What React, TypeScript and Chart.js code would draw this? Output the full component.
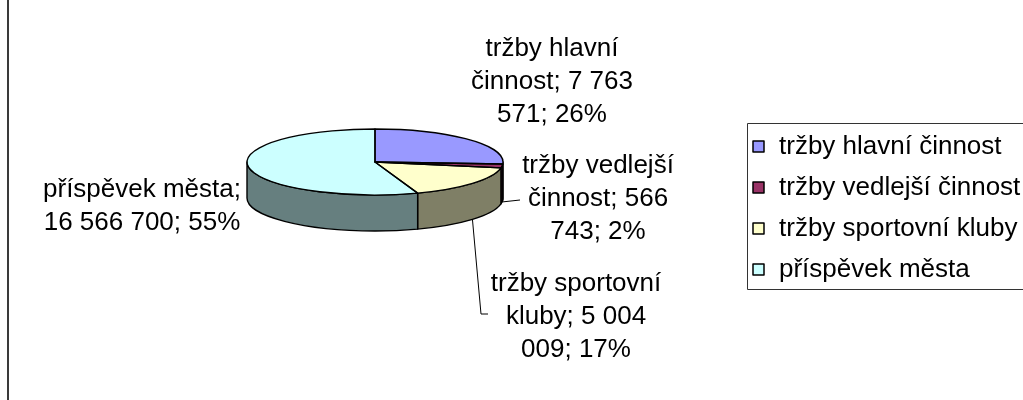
import React, { useEffect, useRef } from "react";
import { Chart, registerables } from "chart.js";

Chart.register(...registerables);

// ---- data ----
const categories = [
  "tržby hlavní činnost",
  "tržby vedlejší činnost",
  "tržby sportovní kluby",
  "příspěvek města",
];
const values = [7763571, 566743, 5004009, 16566700];
const topColors = ["#9999FF", "#993366", "#FFFFCC", "#CCFFFF"];
const sideColors = ["#4C4C7F", "#4C1933", "#7F7F66", "#667F7F"];

// ---- styling / layout (not data) ----
const FONT = '26px "Liberation Sans", Arial, sans-serif';
const TILT = 33 / 128;
const DEPTH = 36;
const LINE_H = 33;
// label block centre (middle of block), wrap width, leader end
const labelLayout = [
  { cx: 552, cy: 82, wrap: 185, leader: null as null | number[][] },
  { cx: 598, cy: 199, wrap: 185, leader: [[520, 200]] },
  { cx: 576, cy: 317, wrap: 185, leader: [[481, 314], [488, 314]] },
  { cx: 142, cy: 206, wrap: 215, leader: null },
];

function fmtNum(v: number): string {
  return String(v).replace(/\B(?=(\d{3})+(?!\d))/g, " ");
}

function wrapText(ctx: CanvasRenderingContext2D, text: string, maxW: number): string[] {
  const words = text.split(" ");
  const lines: string[] = [];
  let cur = "";
  for (const w of words) {
    const test = cur ? cur + " " + w : w;
    if (cur && ctx.measureText(test).width > maxW) {
      lines.push(cur);
      cur = w;
    } else cur = test;
  }
  if (cur) lines.push(cur);
  return lines;
}

const pie3d = {
  id: "pie3d",
  beforeDatasetsDraw(chart: any) {
    const ctx: CanvasRenderingContext2D = chart.ctx;
    const meta = chart.getDatasetMeta(0);
    if (!meta.data.length) return;
    meta.data.forEach((arc: any, i: number) => {
      const { x, y, startAngle, endAngle, outerRadius } = arc.getProps(
        ["x", "y", "startAngle", "endAngle", "outerRadius"],
        true
      );
      const rx = outerRadius;
      const ry = outerRadius * TILT;
      for (const base of [0, 2 * Math.PI]) {
        const a = Math.max(startAngle, base);
        const b = Math.min(endAngle, base + Math.PI);
        if (b <= a) continue;
        ctx.beginPath();
        ctx.ellipse(x, y, rx, ry, 0, a, b, false);
        ctx.ellipse(x, y + DEPTH, rx, ry, 0, b, a, true);
        ctx.closePath();
        ctx.fillStyle = sideColors[i];
        ctx.fill();
        ctx.lineWidth = 1.4;
        ctx.strokeStyle = "#000";
        ctx.lineJoin = "round";
        ctx.stroke();
      }
    });
    const { x, y } = meta.data[0];
    ctx.save();
    ctx.translate(x, y);
    ctx.scale(1, TILT);
    ctx.translate(-x, -y);
  },
  afterDatasetsDraw(chart: any) {
    const ctx: CanvasRenderingContext2D = chart.ctx;
    const meta = chart.getDatasetMeta(0);
    if (!meta.data.length) return;
    ctx.restore();
    meta.data.forEach((arc: any) => {
      const { x, y, startAngle, endAngle, outerRadius } = arc.getProps(
        ["x", "y", "startAngle", "endAngle", "outerRadius"],
        true
      );
      ctx.save();
      ctx.translate(x, y);
      ctx.scale(1, TILT);
      ctx.translate(-x, -y);
      ctx.beginPath();
      ctx.moveTo(x, y);
      ctx.arc(x, y, outerRadius, startAngle, endAngle);
      ctx.closePath();
      ctx.restore();
      ctx.lineWidth = 1.4;
      ctx.strokeStyle = "#000";
      ctx.lineJoin = "round";
      ctx.stroke();
    });
  },
  afterDraw(chart: any) {
    const ctx: CanvasRenderingContext2D = chart.ctx;
    const meta = chart.getDatasetMeta(0);
    const data: number[] = chart.data.datasets[0].data;
    const labels: string[] = chart.data.labels;
    const total = data.reduce((s, v) => s + v, 0);

    ctx.save();
    // chart outer border (left edge)
    ctx.strokeStyle = "#3a3a3a";
    ctx.lineWidth = 2;
    ctx.beginPath();
    ctx.moveTo(8, 0);
    ctx.lineTo(8, 400);
    ctx.stroke();

    // data labels
    ctx.font = FONT;
    ctx.fillStyle = "#000";
    ctx.textAlign = "center";
    ctx.textBaseline = "middle";
    data.forEach((v, i) => {
      const pct = Math.round((v / total) * 100);
      const text = `${labels[i]}; ${fmtNum(v)}; ${pct}%`;
      const L = labelLayout[i];
      const lines = wrapText(ctx, text, L.wrap);
      const y0 = L.cy - ((lines.length - 1) * LINE_H) / 2;
      lines.forEach((ln, k) => ctx.fillText(ln, L.cx, y0 + k * LINE_H));
      if (L.leader) {
        const arc: any = meta.data[i];
        const mid = (arc.startAngle + arc.endAngle) / 2;
        const sx = arc.x + arc.outerRadius * Math.cos(mid);
        const sy = arc.y + arc.outerRadius * TILT * Math.sin(mid) + DEPTH;
        ctx.strokeStyle = "#000";
        ctx.lineWidth = 1;
        ctx.beginPath();
        ctx.moveTo(sx, sy);
        L.leader.forEach((p) => ctx.lineTo(p[0], p[1]));
        ctx.stroke();
      }
    });

    // legend
    const bx = 747.5, by = 123.5, bw = 300, bh = 166;
    ctx.strokeStyle = "#333";
    ctx.lineWidth = 1;
    ctx.strokeRect(bx, by, bw, bh);
    ctx.textAlign = "left";
    labels.forEach((lab, i) => {
      const cy = 146 + i * 41;
      ctx.fillStyle = topColors[i];
      ctx.fillRect(753, cy - 5, 11, 11);
      ctx.strokeStyle = "#000";
      ctx.lineWidth = 1.5;
      ctx.strokeRect(753, cy - 5, 11, 11);
      ctx.fillStyle = "#000";
      ctx.fillText(lab, 779, cy + 1);
    });
    ctx.restore();
  },
};

export default function App() {
  const ref = useRef<HTMLCanvasElement | null>(null);
  useEffect(() => {
    if (!ref.current) return;
    const chart = new Chart(ref.current, {
      type: "pie",
      data: {
        labels: categories,
        datasets: [
          {
            data: values,
            backgroundColor: topColors,
            borderWidth: 0,
            radius: 128,
            clip: false,
          } as any,
        ],
      },
      options: {
        responsive: false,
        animation: false,
        events: [],
        layout: { padding: { left: 247, right: 520, top: 34, bottom: 110 } },
        plugins: {
          legend: { display: false },
          tooltip: { enabled: false },
        },
      },
      plugins: [pie3d],
    });
    return () => chart.destroy();
  }, []);
  return (
    <div style={{ position: "absolute", left: 0, top: 0, width: 1023, height: 400, background: "#fff" }}>
      <canvas ref={ref} width={1023} height={400} style={{ display: "block" }} />
    </div>
  );
}
